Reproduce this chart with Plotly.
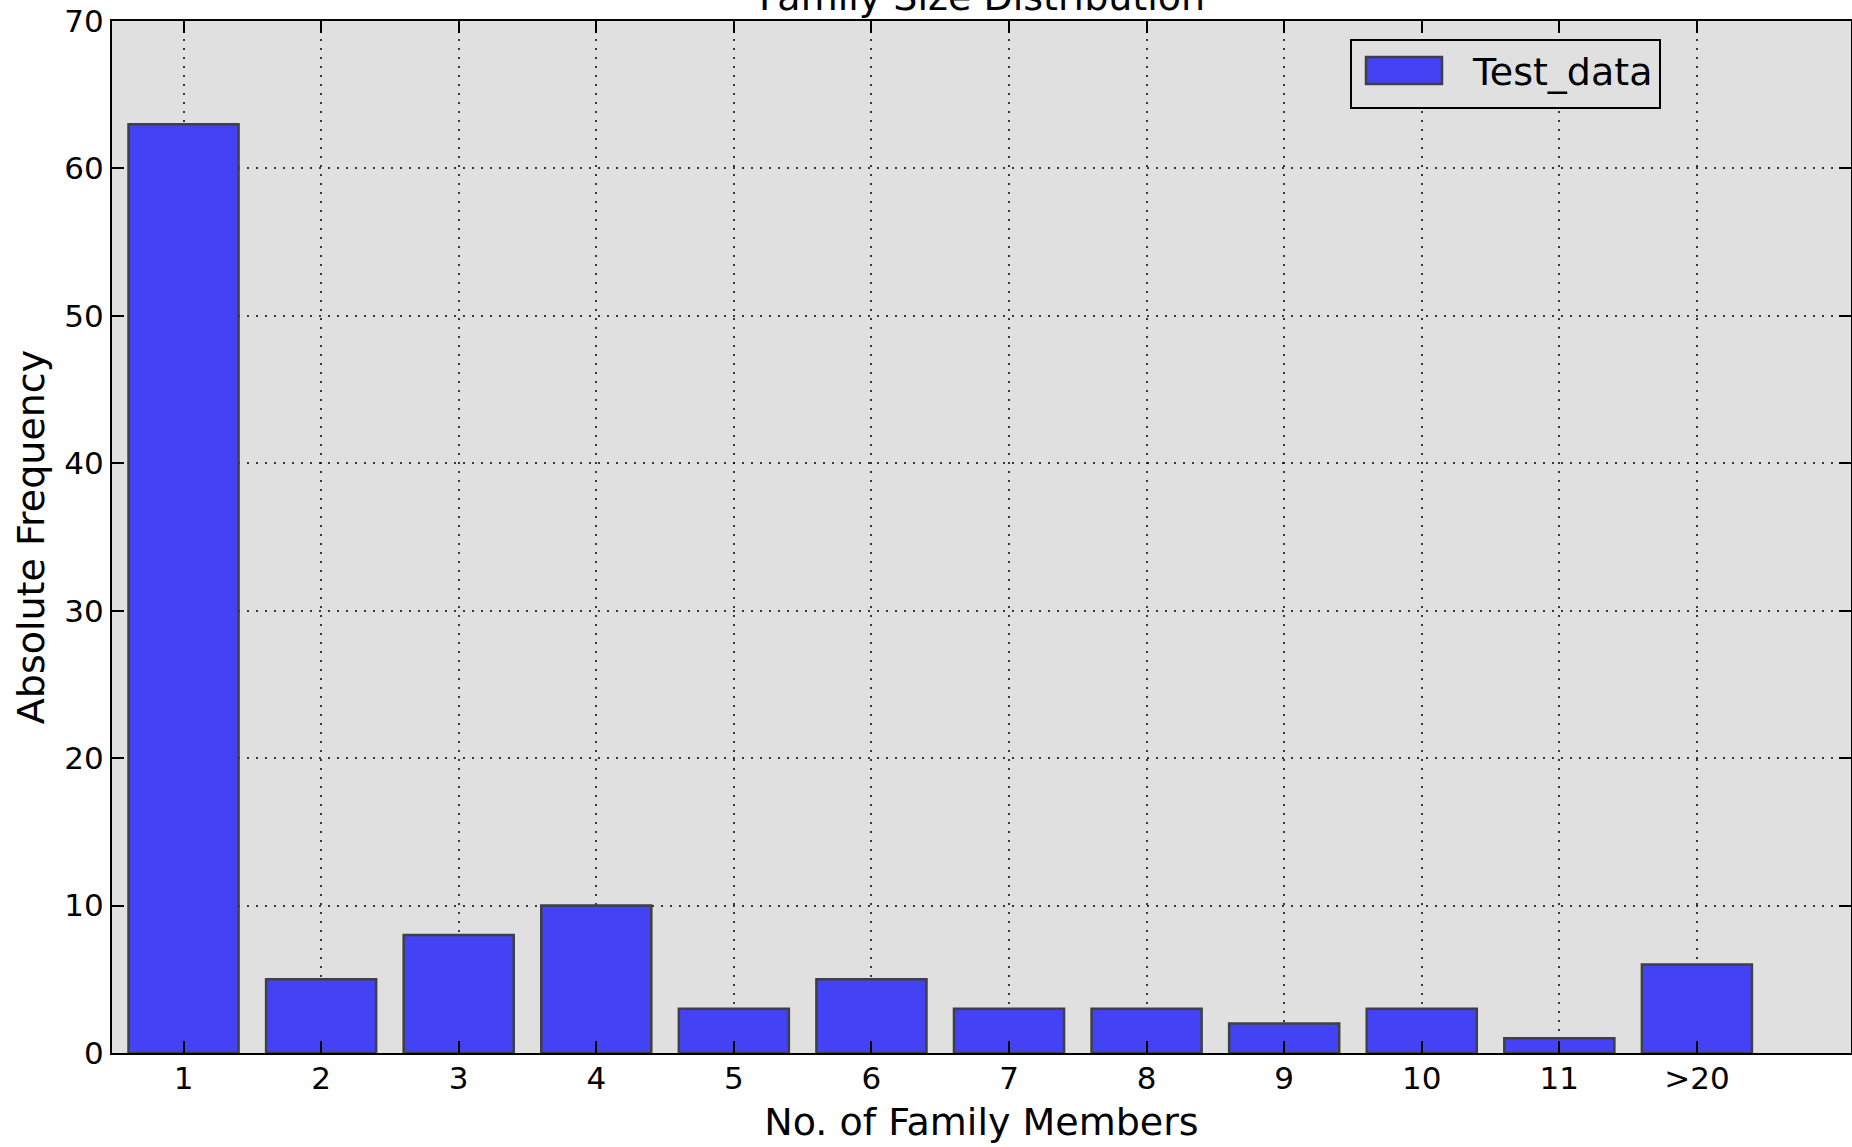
import plotly.graph_objects as go

# ---- data ----
categories = ["1", "2", "3", "4", "5", "6", "7", "8", "9", "10", "11", ">20"]
frequencies = [63, 5, 8, 10, 3, 5, 3, 3, 2, 3, 1, 6]
series_name = "Test_data"
y_ticks = [0, 10, 20, 30, 40, 50, 60, 70]

# ---- style ----
W, H = 1852, 1147
L, R, T, B = 112, 1, 21, 94
FONT = "DejaVu Sans"
BAR_FILL = "rgb(67,67,245)"
BAR_EDGE = "rgb(64,64,64)"
BG = "rgb(224,224,224)"
GRID = "rgba(0,0,0,0.75)"
BIG = 38

pw = W - L - R
ph = H - T - B


def px_x(x):
    return (x - L) / pw


def px_y(y):
    return (H - B - y) / ph


fig = go.Figure()
fig.add_trace(go.Bar(
    x=categories, y=frequencies, name=series_name,
    marker=dict(color=BAR_FILL, line=dict(color=BAR_EDGE, width=2.5)),
    showlegend=False,
))

axis_common = dict(
    showline=True, linecolor="black", linewidth=2, mirror="allticks",
    ticks="inside", ticklen=12, tickwidth=1.5, tickcolor="black",
    showgrid=True, gridcolor=GRID, gridwidth=1.5, griddash="2px,7px",
    zeroline=False,
    tickfont=dict(family=FONT, size=31, color="black"),
)

fig.update_xaxes(
    type="category", range=[-0.52, 12.12], ticklabelstandoff=-3,
    title=dict(text="No. of Family Members", font=dict(family=FONT, size=BIG, color="black"), standoff=13),
    **axis_common,
)
fig.update_yaxes(
    range=[0, 70], tickvals=y_ticks,
    title=dict(text="Absolute Frequency", font=dict(family=FONT, size=BIG, color="black"), standoff=8),
    **axis_common,
)

# legend (drawn to match the wide matplotlib patch)
shapes = [
    dict(type="rect", xref="paper", yref="paper",
         x0=px_x(1351), x1=px_x(1660), y0=px_y(108), y1=px_y(40),
         fillcolor=BG, line=dict(color="black", width=2), layer="above"),
    dict(type="rect", xref="paper", yref="paper",
         x0=px_x(1366), x1=px_x(1442), y0=px_y(84), y1=px_y(57),
         fillcolor=BAR_FILL, line=dict(color=BAR_EDGE, width=2.5), layer="above"),
]
annotations = [
    dict(text=series_name, xref="paper", yref="paper", x=px_x(1470), y=px_y(72),
         xanchor="left", yanchor="middle", showarrow=False,
         font=dict(family=FONT, size=BIG, color="black")),
    dict(text="Family Size Distribution", xref="paper", yref="paper", x=0.5, y=1,
         xanchor="center", yanchor="bottom", showarrow=False, yshift=0,
         font=dict(family=FONT, size=BIG, color="black")),
]

fig.update_layout(
    width=W, height=H,
    margin=dict(l=L, r=R, t=T, b=B, autoexpand=False),
    paper_bgcolor="white", plot_bgcolor=BG,
    bargap=0.2,
    shapes=shapes, annotations=annotations,
    font=dict(family=FONT, color="black"),
)

fig.write_html(
    "out.html",
    config={"displayModeBar": False},
    post_script="document.body.style.margin='0';document.body.style.overflow='hidden';",
)
